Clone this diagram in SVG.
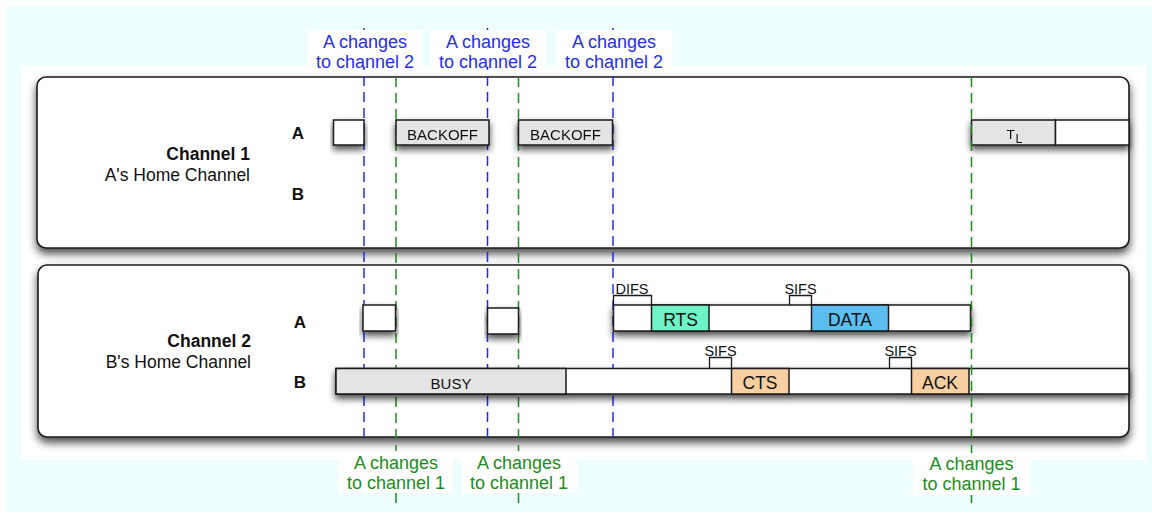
<svg xmlns="http://www.w3.org/2000/svg" width="1152" height="516" viewBox="0 0 1152 516">
  <defs>
    <filter id="shadow" x="-10%" y="-30%" width="120%" height="180%">
      <feDropShadow dx="0" dy="4" stdDeviation="3.5" flood-color="#000" flood-opacity="0.7"/>
    </filter>
    <filter id="panelShadow" x="-5%" y="-10%" width="110%" height="125%">
      <feDropShadow dx="0" dy="5" stdDeviation="4.5" flood-color="#000" flood-opacity="0.7"/>
    </filter>
  </defs>
  <style>
    text { font-family: "Liberation Sans", Arial, sans-serif; }
    .panel { fill: #ffffff; stroke: #1a1a1a; stroke-width: 1.6; }
    .slot { stroke: #1a1a1a; stroke-width: 1.5; }
    .white { fill: #ffffff; }
    .grey { fill: #e4e4e4; }
    .rts { fill: #6ef3c4; }
    .data { fill: #5cbdf0; }
    .peach { fill: #f8cfa0; }
    .bracket { fill: none; stroke: #1a1a1a; stroke-width: 1.3; }
    .title { font-size: 17.5px; font-weight: bold; fill: #111; text-anchor: end; }
    .sub { font-size: 17.5px; fill: #111; text-anchor: end; }
    .station { font-size: 17px; font-weight: bold; fill: #111; text-anchor: middle; }
    .small { font-size: 15px; fill: #111; text-anchor: middle; }
    .frame { font-size: 17.5px; fill: #111; text-anchor: middle; }
    .gap { font-size: 14.5px; fill: #111; text-anchor: middle; }
    .to2 { stroke: #1f2ee6; stroke-width: 1.5; stroke-dasharray: 10 6; fill: none; }
    .to1 { stroke: #1c8c1c; stroke-width: 1.5; stroke-dasharray: 10 6; fill: none; }
    .lbl2 { font-size: 18px; fill: #1f2ef0; text-anchor: middle; }
    .lbl1 { font-size: 18px; fill: #1c8c1c; text-anchor: middle; }
    .lblbox { fill: #ffffff; }
  </style>

  <!-- page background -->
  <rect x="0" y="0" width="1152" height="516" fill="#ffffff"/>
  <rect x="6" y="6" width="1146" height="506" fill="#eefefe"/>
  <rect x="21" y="66" width="1125" height="394" fill="#ffffff"/>

  <!-- channel panels -->
  <g id="channel1">
    <rect class="panel" x="37" y="77" width="1092" height="171" rx="9" filter="url(#panelShadow)"/>
    <text class="title" x="250" y="160">Channel 1</text>
    <text class="sub" x="250" y="181">A's Home Channel</text>
    <text class="station" x="298" y="139">A</text>
    <text class="station" x="298" y="200">B</text>
  </g>
  <g id="channel2">
    <rect class="panel" x="38" y="265" width="1091" height="172" rx="9" filter="url(#panelShadow)"/>
    <text class="title" x="251" y="347">Channel 2</text>
    <text class="sub" x="251" y="368">B's Home Channel</text>
    <text class="station" x="300" y="327.5">A</text>
    <text class="station" x="300" y="387.5">B</text>
  </g>

  <!-- channel switch markers (under the frames) -->
  <g id="connectors">
    <line class="to2" x1="364" y1="28" x2="364" y2="437"/>
    <line class="to2" x1="487.5" y1="28" x2="487.5" y2="437"/>
    <line class="to2" x1="613" y1="28" x2="613" y2="437"/>
    <line class="to1" x1="396" y1="77" x2="396" y2="505"/>
    <line class="to1" x1="518.5" y1="77" x2="518.5" y2="505"/>
  </g>

  <!-- channel 1, station A -->
  <g id="ch1-a-idle" filter="url(#shadow)">
    <rect class="slot white" x="333.5" y="120" width="30.5" height="25"/>
  </g>
  <g id="ch1-a-backoff1" filter="url(#shadow)">
    <rect class="slot grey" x="396" y="120" width="93" height="25"/>
    <text class="small" x="442.5" y="140">BACKOFF</text>
  </g>
  <g id="ch1-a-backoff2" filter="url(#shadow)">
    <rect class="slot grey" x="518.5" y="120" width="94" height="25"/>
    <text class="small" x="565.5" y="140">BACKOFF</text>
  </g>
  <g id="ch1-a-tl" filter="url(#shadow)">
    <rect class="slot grey" x="971.5" y="120" width="84" height="25"/>
    <rect class="slot white" x="1055.5" y="120" width="73.5" height="25"/>
    <text x="1006.5" y="139" font-size="13.5" fill="#111">T</text>
    <text x="1015.5" y="142.5" font-size="12.5" fill="#111">L</text>
  </g>

  <!-- channel 2, station A -->
  <g id="ch2-a-idle1" filter="url(#shadow)">
    <rect class="slot white" x="363" y="305" width="32.5" height="26"/>
  </g>
  <g id="ch2-a-idle2" filter="url(#shadow)">
    <rect class="slot white" x="487.5" y="308" width="31" height="26"/>
  </g>
  <g id="ch2-a-exchange">
    <path class="bracket" d="M613.5,305 V295.5 H651.5 V305"/>
    <text class="gap" x="632" y="293.5">DIFS</text>
    <path class="bracket" d="M789.5,305 V295.5 H811.5 V305"/>
    <text class="gap" x="800.5" y="293.5">SIFS</text>
    <g filter="url(#shadow)">
      <rect class="slot white" x="613.5" y="305" width="357" height="26"/>
      <rect class="slot rts" x="651.5" y="305" width="57.5" height="26"/>
      <rect class="slot data" x="811.5" y="305" width="77" height="26"/>
    </g>
    <text class="frame" x="680.5" y="325.5">RTS</text>
    <text class="frame" x="850" y="325.5">DATA</text>
  </g>

  <!-- channel 2, station B -->
  <g id="ch2-b-exchange">
    <path class="bracket" d="M709.5,368.5 V357.5 H731.5 V368.5"/>
    <text class="gap" x="720.5" y="355.5">SIFS</text>
    <path class="bracket" d="M889.5,368.5 V357.5 H911.5 V368.5"/>
    <text class="gap" x="900.5" y="355.5">SIFS</text>
    <g filter="url(#shadow)">
      <rect class="slot white" x="336" y="368.5" width="793" height="25.5"/>
      <rect class="slot grey" x="336" y="368.5" width="230" height="25.5"/>
      <rect class="slot peach" x="731.5" y="368.5" width="57.5" height="25.5"/>
      <rect class="slot peach" x="911.5" y="368.5" width="57.5" height="25.5"/>
    </g>
    <text class="small" x="451" y="388.5">BUSY</text>
    <text class="frame" x="760" y="389">CTS</text>
    <text class="frame" x="940" y="389">ACK</text>
  </g>

  <!-- last switch back to channel 1 (over the frames) -->
  <g id="connector-final">
    <line class="to1" x1="971.5" y1="77" x2="971.5" y2="505"/>
  </g>

  <!-- switch labels -->
  <g id="label-to2-1">
    <rect class="lblbox" x="307" y="30" width="116" height="37"/>
    <text class="lbl2" x="365" y="47.5">A changes</text>
    <text class="lbl2" x="365" y="67.5">to channel 2</text>
  </g>
  <g id="label-to2-2">
    <rect class="lblbox" x="430" y="30" width="116" height="37"/>
    <text class="lbl2" x="488" y="47.5">A changes</text>
    <text class="lbl2" x="488" y="67.5">to channel 2</text>
  </g>
  <g id="label-to2-3">
    <rect class="lblbox" x="556" y="30" width="116" height="37"/>
    <text class="lbl2" x="614" y="47.5">A changes</text>
    <text class="lbl2" x="614" y="67.5">to channel 2</text>
  </g>
  <g id="label-to1-1">
    <rect class="lblbox" x="338" y="451" width="115" height="42"/>
    <text class="lbl1" x="396" y="468.5">A changes</text>
    <text class="lbl1" x="396" y="488.5">to channel 1</text>
  </g>
  <g id="label-to1-2">
    <rect class="lblbox" x="462" y="451" width="115" height="42"/>
    <text class="lbl1" x="519" y="468.5">A changes</text>
    <text class="lbl1" x="519" y="488.5">to channel 1</text>
  </g>
  <g id="label-to1-3">
    <rect class="lblbox" x="913" y="453" width="117" height="42"/>
    <text class="lbl1" x="971.5" y="470">A changes</text>
    <text class="lbl1" x="971.5" y="490">to channel 1</text>
  </g>
</svg>
